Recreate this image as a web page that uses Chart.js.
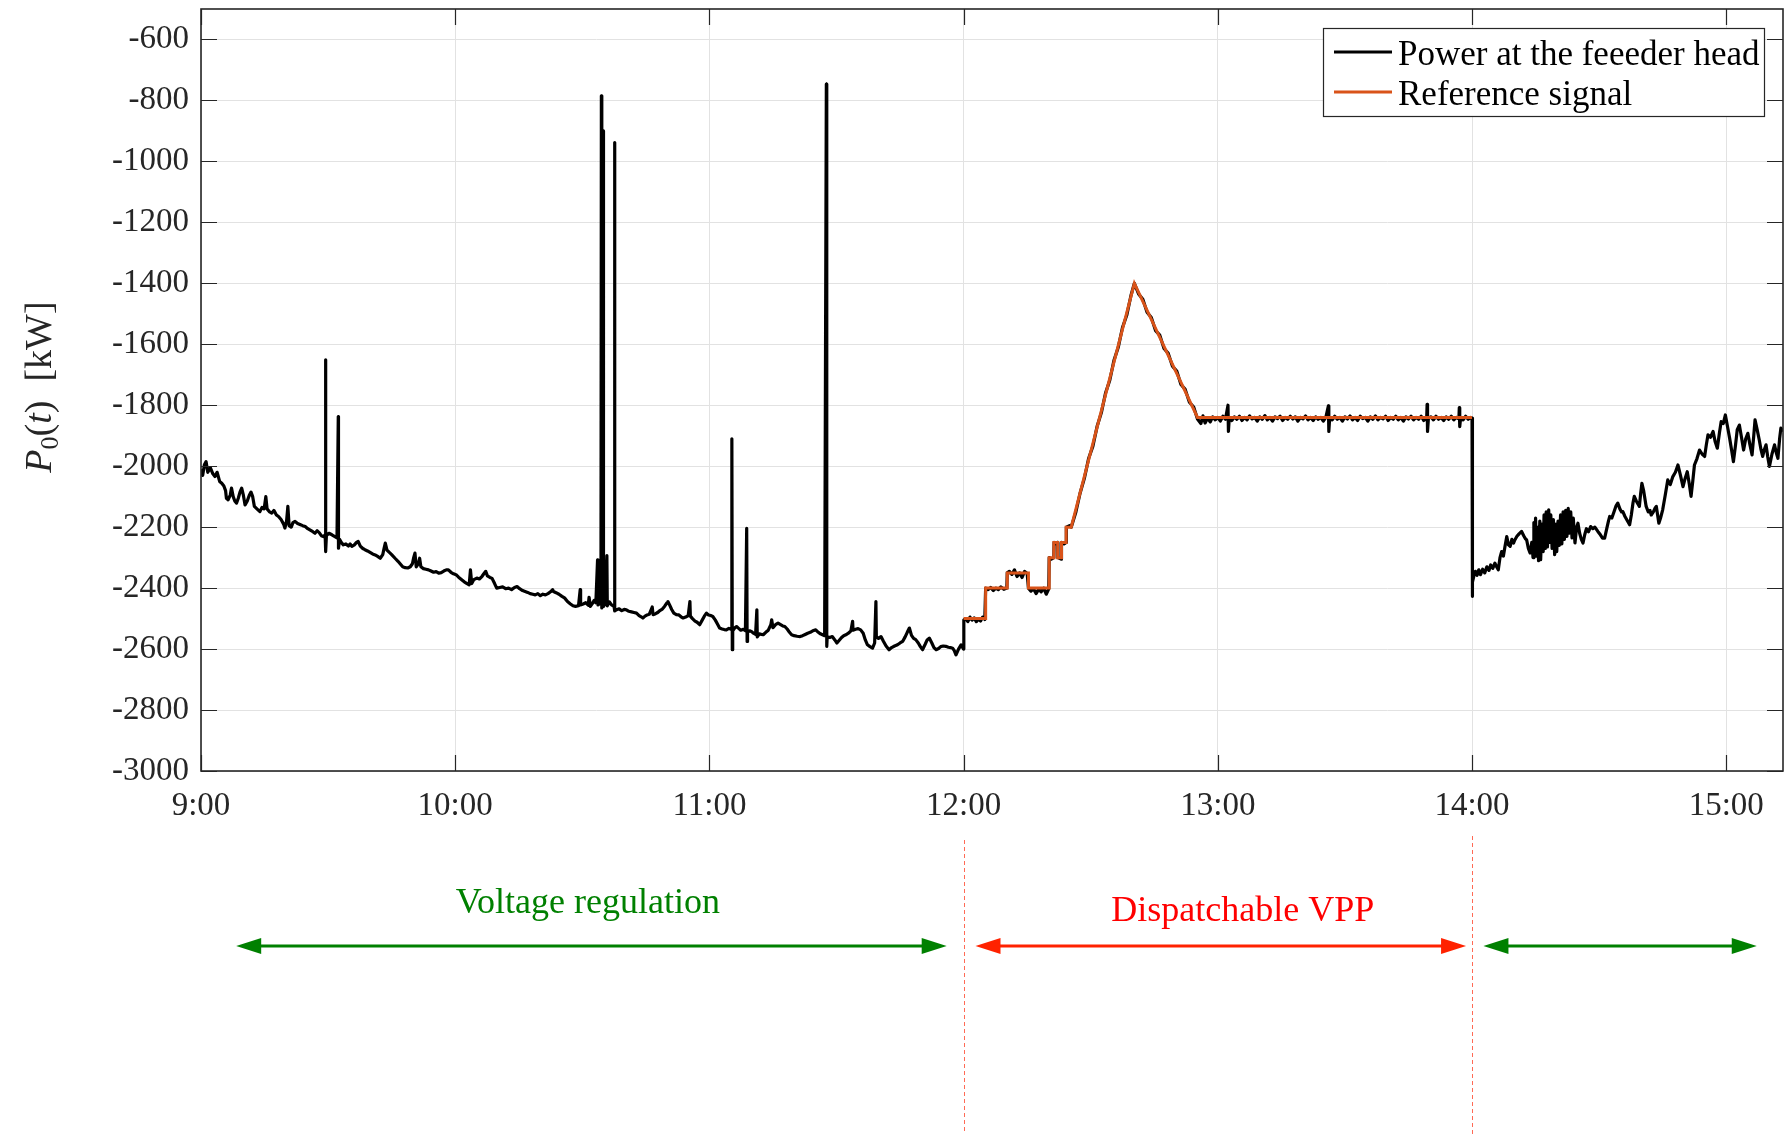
<!DOCTYPE html>
<html>
<head>
<meta charset="utf-8">
<title>Feeder head power</title>
<script src="https://cdn.jsdelivr.net/npm/chart.js@4.4.0/dist/chart.umd.min.js"></script>
<style>
html,body{margin:0;padding:0;background:#fff;}
#wrap{width:1789px;height:1134px;}
</style>
</head>
<body>
<div id="wrap"><canvas id="powerChart" width="1789" height="1134"></canvas></div>
<script>

// time axis is minutes after 9:00
const xTickMinutes = [0, 60, 120, 180, 240, 300, 360];
const xTickLabels = ['9:00', '10:00', '11:00', '12:00', '13:00', '14:00', '15:00'];
const yTickValues = [-3000, -2800, -2600, -2400, -2200, -2000, -1800, -1600, -1400, -1200, -1000, -800, -600];

const seriesLabels = ['Power at the feeeder head', 'Reference signal'];

// [minute, kW] measured at the feeder head, 9:00 - 12:00
const feederMorning = [
[0,-2010],[0.4,-2030],[0.8,-1995],[1.2,-1985],[1.6,-2020],[2.2,-2005],[2.8,-2025],[3.3,-2034],[3.8,-2020],[4.4,-2050],
[4.9,-2056],[5.4,-2065],[5.8,-2080],[6.0,-2105],[6.4,-2110],[6.9,-2095],[7.2,-2072],[7.6,-2100],[8.0,-2115],[8.4,-2121],
[8.8,-2105],[9.2,-2085],[9.6,-2072],[10.0,-2095],[10.4,-2127],[10.9,-2115],[11.4,-2095],[11.8,-2085],[12.2,-2100],[12.6,-2132],
[13.2,-2140],[13.9,-2149],[14.4,-2135],[14.9,-2140],[15.3,-2100],[15.6,-2140],[16.2,-2150],[16.7,-2154],[17.2,-2145],[17.8,-2160],
[18.3,-2165],[18.9,-2175],[19.5,-2190],[19.8,-2203],[20.2,-2180],[20.5,-2132],[20.8,-2195],[21.3,-2200],[21.7,-2185],[22.2,-2181],
[22.8,-2188],[23.5,-2192],[24.0,-2195],[24.6,-2198],[25.2,-2205],[25.8,-2210],[26.4,-2215],[26.9,-2220],[27.4,-2212],[27.9,-2218],
[28.4,-2228],[28.9,-2231],[29.3,-2225],[29.4,-1651],[29.45,-2280],[29.6,-2228],[30.2,-2220],[30.9,-2225],[31.5,-2230],[32.1,-2235],
[32.4,-1837],[32.45,-2269],[32.7,-2240],[33.1,-2250],[33.6,-2258],[34.2,-2255],[34.8,-2262],[35.2,-2255],[35.6,-2263],[36.2,-2258],
[36.7,-2250],[37.1,-2247],[37.6,-2262],[38.2,-2270],[38.7,-2274],[39.3,-2278],[39.9,-2283],[40.5,-2288],[41.1,-2291],[41.7,-2296],
[42.3,-2302],[42.9,-2290],[43.2,-2270],[43.5,-2252],[43.9,-2275],[44.4,-2282],[45.0,-2290],[45.8,-2302],[46.5,-2312],[47.1,-2322],
[47.6,-2330],[48.2,-2333],[48.8,-2334],[49.4,-2330],[49.9,-2320],[50.2,-2300],[50.5,-2285],[50.8,-2330],[51.3,-2320],[51.6,-2302],
[51.9,-2330],[52.5,-2336],[53.1,-2338],[53.7,-2340],[54.3,-2344],[54.9,-2348],[55.5,-2346],[56.1,-2351],[56.7,-2349],[57.3,-2344],
[57.9,-2340],[58.4,-2340],[59.0,-2348],[59.6,-2353],[60.2,-2356],[60.8,-2364],[61.6,-2373],[62.2,-2380],[62.8,-2385],[63.3,-2389],
[63.6,-2340],[63.9,-2385],[64.4,-2372],[65.1,-2367],[65.7,-2370],[66.3,-2362],[66.8,-2352],[67.2,-2345],[67.6,-2360],[68.2,-2365],
[68.7,-2368],[69.3,-2385],[69.8,-2400],[70.5,-2398],[71.2,-2396],[71.9,-2402],[72.6,-2400],[73.3,-2405],[74.0,-2398],[74.6,-2395],
[75.2,-2402],[75.9,-2408],[76.5,-2411],[77.1,-2414],[77.7,-2418],[78.3,-2420],[78.9,-2422],[79.5,-2418],[80.1,-2425],[80.7,-2420],
[81.3,-2422],[81.9,-2418],[82.5,-2412],[83.0,-2405],[83.2,-2411],[83.8,-2415],[84.5,-2420],[85.2,-2427],[85.8,-2432],[86.5,-2444],
[87.2,-2452],[87.8,-2458],[88.4,-2460],[89.1,-2458],[89.5,-2405],[89.6,-2455],[90.2,-2452],[90.8,-2448],[91.4,-2456],[91.6,-2430],
[91.9,-2460],[92.4,-2450],[92.8,-2440],[93.2,-2448],[93.6,-2307],[93.7,-2455],[94.0,-2452],[94.4,-2445],[94.5,-785],[94.6,-2465],
[94.8,-2450],[94.9,-900],[95.0,-2460],[95.4,-2450],[95.8,-2293],[95.9,-2458],[96.4,-2445],[96.9,-2455],[97.5,-2460],[97.6,-938],
[97.7,-2475],[98.1,-2471],[98.7,-2468],[99.3,-2474],[99.9,-2470],[100.4,-2471],[101.0,-2476],[101.6,-2478],[102.2,-2480],[102.8,-2482],
[103.4,-2490],[103.9,-2494],[104.3,-2498],[104.8,-2492],[105.3,-2488],[105.8,-2486],[106.5,-2462],[106.7,-2487],[107.3,-2484],[107.8,-2480],
[108.2,-2475],[108.8,-2470],[109.4,-2460],[110.0,-2448],[110.2,-2444],[110.6,-2455],[111.1,-2470],[111.6,-2482],[112.2,-2487],[112.8,-2488],
[113.3,-2494],[113.8,-2498],[114.4,-2495],[115.0,-2490],[115.4,-2444],[115.5,-2492],[116.0,-2500],[116.6,-2508],[117.1,-2512],[117.7,-2520],
[118.3,-2505],[118.8,-2492],[119.3,-2482],[119.8,-2488],[120.3,-2490],[120.8,-2493],[121.4,-2505],[121.9,-2518],[122.4,-2531],[123.0,-2534],
[123.5,-2536],[124.0,-2537],[124.6,-2532],[125.1,-2535],[125.3,-1910],[125.4,-2602],[125.5,-2540],[126.0,-2530],[126.4,-2526],[126.9,-2532],
[127.4,-2538],[128.0,-2535],[128.5,-2540],[128.8,-2204],[128.9,-2575],[129.0,-2545],[129.5,-2540],[129.9,-2542],[130.4,-2548],[130.9,-2552],
[131.2,-2471],[131.3,-2560],[131.8,-2550],[132.3,-2552],[132.7,-2553],[133.3,-2545],[133.9,-2538],[134.5,-2520],[134.7,-2504],[135.0,-2530],
[135.6,-2520],[136.2,-2515],[136.8,-2520],[137.3,-2524],[137.8,-2526],[138.4,-2535],[138.9,-2545],[139.4,-2553],[140.0,-2556],[140.7,-2558],
[141.4,-2559],[142.0,-2556],[142.6,-2552],[143.2,-2548],[143.8,-2545],[144.4,-2540],[145.1,-2537],[145.7,-2545],[146.2,-2550],[146.7,-2553],
[147.2,-2556],[147.6,-746],[147.7,-2591],[147.8,-2560],[148.4,-2562],[149.0,-2559],[149.6,-2570],[150.1,-2580],[150.6,-2572],[151.2,-2562],
[151.7,-2556],[152.2,-2553],[152.8,-2548],[153.4,-2540],[153.8,-2509],[153.9,-2538],[154.5,-2535],[155.1,-2533],[155.7,-2537],[156.3,-2548],
[156.8,-2570],[157.3,-2586],[157.9,-2592],[158.5,-2597],[159.0,-2580],[159.3,-2444],[159.4,-2560],[159.9,-2565],[160.5,-2559],[161.1,-2575],
[161.7,-2590],[162.4,-2602],[163.0,-2595],[163.7,-2590],[164.4,-2586],[165.0,-2580],[165.6,-2575],[166.2,-2560],[166.7,-2545],[167.2,-2531],
[167.7,-2555],[168.2,-2565],[168.7,-2569],[169.3,-2580],[169.8,-2592],[170.3,-2602],[170.9,-2585],[171.4,-2570],[171.9,-2564],[172.5,-2580],
[173.0,-2595],[173.5,-2602],[174.1,-2598],[174.6,-2592],[175.2,-2590],[175.8,-2591],[176.4,-2594],[176.9,-2595],[177.4,-2597],[177.8,-2605],
[178.2,-2619],[178.8,-2600],[179.4,-2586],[180.0,-2600]
];

// [minute, kW] feeder head while following the reference, 12:00 - 14:00
const feederVpp = [
[180.05,-2505],[180.5,-2500],[181.0,-2510],[181.5,-2495],[182.0,-2505],[182.5,-2498],[183.0,-2510],[183.5,-2502],[184.0,-2508],[184.5,-2495],
[185.0,-2503],[185.2,-2400],[185.8,-2405],[186.4,-2398],[187.0,-2408],[187.6,-2400],[188.2,-2405],[188.8,-2396],[189.5,-2404],[190.2,-2400],
[190.3,-2350],[190.8,-2345],[191.4,-2355],[192.0,-2340],[192.6,-2362],[193.2,-2350],[193.8,-2365],[194.4,-2345],[195.0,-2352],[195.3,-2400],
[195.9,-2410],[196.5,-2402],[197.1,-2418],[197.7,-2404],[198.3,-2412],[198.9,-2400],[199.5,-2420],[200.1,-2402],[200.2,-2300],[200.7,-2305],
[201.3,-2300],[201.35,-2250],[201.8,-2255],[202.2,-2250],[202.25,-2300],[203.0,-2305],[203.1,-2250],[203.7,-2255],[204.2,-2250],[204.25,-2200],
[205.0,-2195],[205.4,-2200],[206.5,-2150],[207.5,-2088],[208.5,-2040],[209.5,-1975],[210.5,-1935],[211.5,-1870],[212.5,-1825],[213.5,-1760],
[214.5,-1718],[215.5,-1652],[216.5,-1610],[217.5,-1545],[218.5,-1505],[219.5,-1440],[220.3,-1400],[221.3,-1435],[222.3,-1452],[223.3,-1495],
[224.3,-1512],[225.3,-1555],[226.3,-1570],[227.3,-1614],[228.3,-1630],[229.3,-1672],[230.3,-1688],[231.3,-1732],[232.3,-1748],[233.3,-1790],
[234.3,-1806],[235.2,-1845],[236.0,-1860],[236.5,-1835],[237.0,-1858],[237.6,-1842],[238.2,-1855],[238.8,-1838],[239.4,-1848],[240.0,-1840],
[240.6,-1852],[241.2,-1836],[241.8,-1846],[242.4,-1800],[242.5,-1886],[242.7,-1842],[243.3,-1850],[243.9,-1838],[244.5,-1846],[245.1,-1836],
[245.7,-1850],[246.3,-1840],[246.9,-1848],[247.5,-1835],[248.1,-1845],[248.7,-1840],[249.3,-1852],[249.9,-1838],[250.5,-1846],[251.1,-1834],
[251.7,-1848],[252.3,-1840],[252.9,-1852],[253.5,-1838],[254.1,-1844],[254.7,-1836],[255.3,-1850],[255.9,-1840],[256.5,-1846],[257.1,-1836],
[257.7,-1845],[258.3,-1838],[258.9,-1852],[259.5,-1840],[260.1,-1845],[260.7,-1835],[261.3,-1848],[261.9,-1840],[262.5,-1850],[263.1,-1838],
[263.7,-1846],[264.3,-1840],[264.9,-1852],[265.5,-1840],[266.1,-1802],[266.2,-1886],[266.4,-1842],[267.0,-1848],[267.6,-1836],[268.2,-1846],
[268.8,-1840],[269.4,-1852],[270.0,-1838],[270.6,-1845],[271.2,-1835],[271.8,-1848],[272.4,-1840],[273.0,-1850],[273.6,-1836],[274.2,-1844],
[274.8,-1840],[275.4,-1852],[276.0,-1838],[276.6,-1846],[277.2,-1835],[277.8,-1848],[278.4,-1840],[279.0,-1845],[279.6,-1836],[280.2,-1850],
[280.8,-1840],[281.4,-1846],[282.0,-1836],[282.6,-1848],[283.2,-1840],[283.8,-1852],[284.4,-1838],[285.0,-1845],[285.6,-1836],[286.2,-1848],
[286.8,-1840],[287.4,-1846],[288.0,-1836],[288.6,-1850],[289.3,-1842],[289.4,-1797],[289.5,-1886],[289.7,-1844],[290.3,-1838],[290.9,-1848],
[291.5,-1836],[292.1,-1846],[292.7,-1840],[293.3,-1850],[293.9,-1838],[294.5,-1846],[295.1,-1836],[295.7,-1848],[296.3,-1840],[296.9,-1845],
[297.0,-1808],[297.1,-1870],[297.3,-1842],[297.9,-1848],[298.5,-1836],[299.1,-1846],[299.7,-1840],[300.0,-1842]
];

// [minute, kW] feeder head after 14:00
const feederAfternoon = [
[300.05,-2427],[300.15,-2380],[300.4,-2362],[300.8,-2345],[301.2,-2358],[301.6,-2340],[302.0,-2356],[302.5,-2338],[303.0,-2350],[303.5,-2330],
[304.0,-2342],[304.4,-2324],[304.9,-2335],[305.4,-2318],[305.8,-2330],[306.2,-2340],[306.6,-2300],[307.0,-2280],[307.4,-2295],[307.8,-2262],
[308.2,-2231],[308.6,-2258],[309.0,-2263],[309.4,-2240],[309.8,-2252],[310.1,-2242],[310.6,-2230],[311.1,-2222],[311.7,-2214],[312.2,-2228],
[312.6,-2238],[312.9,-2242],[313.3,-2270],[313.7,-2285],[314.1,-2250],[314.4,-2300],[314.6,-2185],[314.8,-2290],[315.0,-2170],[315.2,-2295],
[315.4,-2200],[315.7,-2310],[316.0,-2180],[316.2,-2307],[316.5,-2190],[316.8,-2280],[317.0,-2160],[317.3,-2270],[317.5,-2150],[317.8,-2265],
[318.1,-2143],[318.4,-2250],[318.6,-2160],[318.9,-2270],[319.2,-2175],[319.5,-2290],[319.8,-2190],[320.0,-2280],[320.3,-2180],[320.6,-2260],
[320.9,-2160],[321.2,-2255],[321.5,-2150],[321.8,-2240],[322.1,-2145],[322.4,-2230],[322.7,-2138],[323.0,-2220],[323.3,-2150],[323.6,-2235],
[323.9,-2170],[324.3,-2252],[324.7,-2200],[325.0,-2187],[325.4,-2220],[325.8,-2240],[326.2,-2252],[326.6,-2225],[327.0,-2205],[327.5,-2215],
[328.0,-2198],[328.5,-2205],[329.0,-2200],[329.7,-2214],[330.3,-2225],[330.8,-2236],[331.3,-2236],[331.8,-2205],[332.2,-2180],[332.5,-2165],
[333.0,-2170],[333.5,-2150],[334.0,-2130],[334.4,-2121],[334.9,-2140],[335.3,-2150],[335.6,-2149],[336.1,-2165],[336.7,-2180],[337.2,-2192],
[337.6,-2160],[338.0,-2120],[338.3,-2099],[338.8,-2115],[339.2,-2125],[339.5,-2132],[339.8,-2090],[340.1,-2056],[340.5,-2080],[341.1,-2132],
[341.6,-2150],[342.0,-2145],[342.3,-2160],[342.8,-2150],[343.2,-2138],[343.5,-2132],[344.1,-2187],[344.5,-2170],[345.0,-2143],[345.6,-2095],
[346.2,-2045],[346.8,-2060],[347.4,-2034],[348.0,-2020],[348.6,-1996],[349.2,-2030],[349.8,-2067],[350.3,-2040],[350.8,-2018],[351.3,-2060],
[351.7,-2099],[352.1,-2050],[352.5,-1996],[353.1,-1975],[353.7,-1947],[354.3,-1960],[354.9,-1968],[355.3,-1930],[355.7,-1897],[356.3,-1905],
[356.9,-1886],[357.4,-1920],[357.9,-1941],[358.4,-1890],[358.8,-1854],[359.3,-1860],[359.8,-1832],[360.3,-1870],[360.8,-1908],[361.3,-1950],
[361.7,-1985],[362.2,-1930],[362.6,-1880],[363.1,-1865],[363.6,-1905],[364.1,-1947],[364.6,-1910],[365.1,-1892],[365.6,-1930],[366.1,-1963],
[366.5,-1900],[366.8,-1848],[367.3,-1880],[367.8,-1914],[368.2,-1945],[368.6,-1968],[369.0,-1945],[369.4,-1930],[369.8,-1970],[370.2,-2001],
[370.8,-1960],[371.4,-1930],[371.8,-1955],[372.2,-1974],[372.6,-1910],[372.9,-1875],[373.4,-1886]
];

// [minute, kW] reference sent to the VPP
const referenceSignal = [
[180,-2500],[185.2,-2500],[185.2,-2400],[190.3,-2400],[190.3,-2350],[195.3,-2350],[195.3,-2400],[200.2,-2400],
[200.2,-2300],[201.3,-2300],[201.3,-2250],[202.2,-2250],[202.2,-2300],[203.1,-2300],[203.1,-2250],[204.2,-2250],
[204.2,-2200],[205.4,-2200],[220.3,-1400],[235.2,-1840],[300,-1840]
];

// operating modes drawn under the axis: arrow [start, end] and name position, in minutes
const phaseNames = ['Voltage regulation', 'Dispatchable VPP', ''];
const phaseSpans = [[8.3, 176.0], [182.8, 298.6], [302.7, 367.2]];
const phaseNameAt = [91.3, 245.9, 0];
const phaseBounds = [180, 300];

const toXY = arr => arr.map(p => ({x: p[0], y: p[1]}));
const feederPoints = toXY(feederMorning.concat(feederVpp, feederAfternoon));

const SERIF = '"Liberation Serif", "Times New Roman", serif';
const GREEN = '#008000';
const RED = '#ff2200';

function drawArrow(ctx, x1, x2, y, color) {
  const head = 25, half = 8;
  ctx.strokeStyle = color;
  ctx.fillStyle = color;
  ctx.lineWidth = 3;
  ctx.beginPath();
  ctx.moveTo(x1 + head - 2, y);
  ctx.lineTo(x2 - head + 2, y);
  ctx.stroke();
  ctx.beginPath();
  ctx.moveTo(x1, y); ctx.lineTo(x1 + head, y - half); ctx.lineTo(x1 + head, y + half); ctx.closePath();
  ctx.fill();
  ctx.beginPath();
  ctx.moveTo(x2, y); ctx.lineTo(x2 - head, y - half); ctx.lineTo(x2 - head, y + half); ctx.closePath();
  ctx.fill();
}

// box, inward ticks, legend, y title and the mode annotations
const decorations = {
  id: 'decorations',
  afterDraw(chart) {
    const {ctx, chartArea: a, scales: {x, y}} = chart;
    ctx.save();

    ctx.strokeStyle = '#262626';
    ctx.lineWidth = 1.2;
    ctx.beginPath();
    yTickValues.forEach(v => {
      const py = Math.round(y.getPixelForValue(v)) + 0.5;
      ctx.moveTo(a.left, py); ctx.lineTo(a.left + 16, py);
      ctx.moveTo(a.right, py); ctx.lineTo(a.right - 16, py);
    });
    xTickMinutes.forEach(v => {
      const px = Math.round(x.getPixelForValue(v)) + 0.5;
      ctx.moveTo(px, a.bottom); ctx.lineTo(px, a.bottom - 16);
      ctx.moveTo(px, a.top); ctx.lineTo(px, a.top + 16);
    });
    ctx.stroke();
    ctx.lineWidth = 1.6;
    ctx.strokeRect(a.left, a.top, a.right - a.left, a.bottom - a.top);

    // legend
    const lx = a.right - 460, ly = a.top + 19;
    ctx.fillStyle = '#fff';
    ctx.fillRect(lx, ly, 441, 88);
    ctx.strokeStyle = '#262626';
    ctx.lineWidth = 1.2;
    ctx.strokeRect(lx + 0.5, ly + 0.5, 441, 88);
    ctx.font = '35px ' + SERIF;
    ctx.textBaseline = 'alphabetic';
    ctx.textAlign = 'left';
    chart.data.datasets.forEach((ds, i) => {
      const rowY = ly + 24 + i * 40;
      ctx.strokeStyle = ds.borderColor;
      ctx.lineWidth = 3;
      ctx.beginPath();
      ctx.moveTo(lx + 11, rowY); ctx.lineTo(lx + 69, rowY);
      ctx.stroke();
      ctx.fillStyle = '#000';
      ctx.fillText(ds.label, lx + 75, rowY + 13);
    });

    // y axis title: P_0(t) [kW]
    ctx.save();
    ctx.translate(51, 387);
    ctx.rotate(-Math.PI / 2);
    ctx.fillStyle = '#262626';
    const parts = [
      {t: 'P', f: 'italic 38px ' + SERIF, dy: 0},
      {t: '0', f: '26px ' + SERIF, dy: 7},
      {t: '(', f: '38px ' + SERIF, dy: 0},
      {t: 't', f: 'italic 38px ' + SERIF, dy: 0},
      {t: ')', f: '38px ' + SERIF, dy: 0},
      {t: '  [kW]', f: '38px ' + SERIF, dy: 0}
    ];
    let total = 0;
    parts.forEach(p => { ctx.font = p.f; p.w = ctx.measureText(p.t).width; total += p.w; });
    let cx = -total / 2;
    parts.forEach(p => { ctx.font = p.f; ctx.fillText(p.t, cx, p.dy); cx += p.w; });
    ctx.restore();

    // mode boundaries
    ctx.strokeStyle = '#ff6a55';
    ctx.lineWidth = 1;
    ctx.setLineDash([4, 3]);
    phaseBounds.forEach((m, i) => {
      const px = Math.round(x.getPixelForValue(m)) + 0.5;
      ctx.beginPath();
      ctx.moveTo(px, i === 0 ? 840 : 836);
      ctx.lineTo(px, 1134);
      ctx.stroke();
    });
    ctx.setLineDash([]);

    // mode arrows and names
    const arrowY = 946;
    const colors = [GREEN, RED, GREEN];
    const textColors = [GREEN, '#ff0000', GREEN];
    const baselines = [913, 921];
    phaseSpans.forEach((s, i) => {
      drawArrow(ctx, x.getPixelForValue(s[0]), x.getPixelForValue(s[1]), arrowY, colors[i]);
      if (phaseNames[i]) {
        ctx.font = '36px ' + SERIF;
        ctx.textAlign = 'center';
        ctx.fillStyle = textColors[i];
        ctx.fillText(phaseNames[i], x.getPixelForValue(phaseNameAt[i]), baselines[i]);
      }
    });

    ctx.restore();
  }
};

new Chart(
  document.getElementById('powerChart'),
  {
    type: 'line',
    data: {
      datasets: [
        {
          label: seriesLabels[0],
          data: feederPoints,
          borderColor: '#000000',
          borderWidth: 3.2,
          borderJoinStyle: 'round',
          pointRadius: 0,
          tension: 0,
          order: 1
        },
        {
          label: seriesLabels[1],
          data: toXY(referenceSignal),
          borderColor: '#d95319',
          borderWidth: 3,
          pointRadius: 0,
          tension: 0,
          order: 0
        }
      ]
    },
    options: {
      responsive: false,
      devicePixelRatio: 1,
      animation: false,
      events: [],
      layout: {padding: {top: 9, right: 6, bottom: 0, left: 0}},
      plugins: {
        legend: {display: false},
        tooltip: {enabled: false}
      },
      scales: {
        x: {
          type: 'linear',
          min: 0,
          max: 373.4,
          afterBuildTicks: s => { s.ticks = xTickMinutes.map(v => ({value: v})); },
          afterFit: s => { s.height = 363; s.paddingLeft = 0; s.paddingRight = 0; },
          grid: {color: '#e2e2e2', lineWidth: 1, drawTicks: false},
          border: {display: false},
          ticks: {
            autoSkip: false,
            maxRotation: 0,
            padding: 16,
            color: '#262626',
            font: {family: SERIF, size: 33},
            callback: v => xTickLabels[xTickMinutes.indexOf(v)]
          }
        },
        y: {
          type: 'linear',
          min: -3000,
          max: -500,
          afterBuildTicks: s => { s.ticks = yTickValues.map(v => ({value: v})); },
          afterFit: s => { s.width = 201; s.paddingTop = 0; s.paddingBottom = 0; },
          grid: {color: '#e2e2e2', lineWidth: 1, drawTicks: false},
          border: {display: false},
          ticks: {
            padding: 12,
            color: '#262626',
            font: {family: SERIF, size: 33},
            callback: v => String(v)
          }
        }
      }
    },
    plugins: [decorations]
  }
);

</script>
</body>
</html>
